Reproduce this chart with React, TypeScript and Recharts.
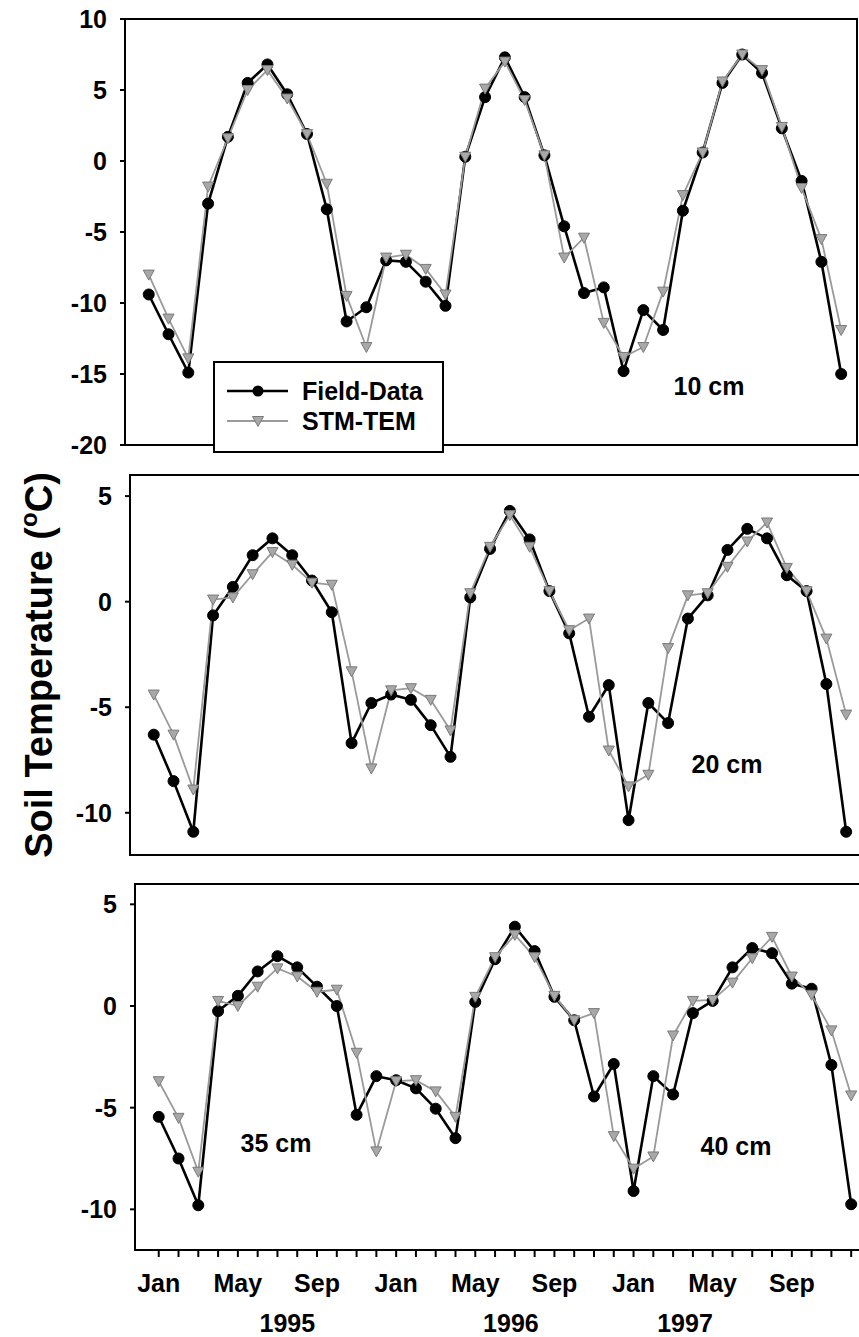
import React from 'react'
import { LineChart, Line, XAxis, YAxis, ReferenceArea } from 'recharts'

const FONT = '"Liberation Sans", Arial, Helvetica, sans-serif'

const monthNames = ['Jan', 'Feb', 'Mar', 'Apr', 'May', 'Jun', 'Jul', 'Aug', 'Sep', 'Oct', 'Nov', 'Dec']
const years = ['1995', '1996', '1997']
// where the year captions sit on the month axis (0 = Jan 1995)
const yearTickAt = [6.5, 17.8, 26.6]

// 10 cm
const field10 = [-9.4, -12.2, -14.9, -3.0, 1.7, 5.5, 6.8, 4.7, 1.9, -3.4, -11.3, -10.3,
  -7.0, -7.1, -8.5, -10.2, 0.3, 4.5, 7.3, 4.5, 0.4, -4.6, -9.3, -8.9,
  -14.8, -10.5, -11.9, -3.5, 0.6, 5.5, 7.5, 6.2, 2.3, -1.4, -7.1, -15.0]
const stm10 = [-8.0, -11.1, -13.9, -1.8, 1.6, 5.0, 6.4, 4.4, 1.9, -1.6, -9.5, -13.1,
  -6.8, -6.6, -7.6, -9.4, 0.3, 5.1, 7.0, 4.3, 0.4, -6.8, -5.4, -11.4,
  -13.8, -13.1, -9.2, -2.4, 0.6, 5.6, 7.5, 6.4, 2.4, -1.9, -5.5, -11.9]

// 20 cm
const field20 = [-6.3, -8.5, -10.9, -0.65, 0.7, 2.2, 3.0, 2.2, 1.0, -0.5, -6.7, -4.8,
  -4.4, -4.65, -5.85, -7.35, 0.2, 2.5, 4.3, 2.95, 0.5, -1.5, -5.45, -3.95,
  -10.35, -4.8, -5.75, -0.8, 0.3, 2.45, 3.45, 3.0, 1.25, 0.5, -3.9, -10.9]
const stm20 = [-4.4, -6.3, -8.9, 0.1, 0.2, 1.3, 2.35, 1.75, 0.9, 0.8, -3.3, -7.9,
  -4.2, -4.1, -4.65, -6.1, 0.4, 2.6, 4.1, 2.6, 0.5, -1.35, -0.8, -7.05,
  -8.75, -8.2, -2.2, 0.3, 0.4, 1.65, 2.85, 3.75, 1.6, 0.5, -1.75, -5.35]

// 35 cm (1995-96) / 40 cm (1997)
const field35 = [-5.45, -7.5, -9.8, -0.25, 0.5, 1.7, 2.45, 1.9, 0.95, 0.0, -5.35, -3.45,
  -3.65, -4.05, -5.05, -6.5, 0.2, 2.3, 3.9, 2.7, 0.45, -0.7, -4.45, -2.85,
  -9.1, -3.45, -4.35, -0.35, 0.25, 1.9, 2.85, 2.6, 1.1, 0.85, -2.9, -9.75]
const stm35 = [-3.7, -5.5, -8.15, 0.25, 0.0, 0.95, 1.85, 1.45, 0.7, 0.8, -2.3, -7.15,
  -3.7, -3.65, -4.2, -5.45, 0.45, 2.4, 3.5, 2.4, 0.5, -0.7, -0.35, -6.4,
  -8.0, -7.4, -1.45, 0.25, 0.3, 1.15, 2.35, 3.4, 1.45, 0.55, -1.2, -4.4]

const months = years.flatMap((y) => monthNames.map((m) => `${m} ${y}`))
const build = (field: number[], stm: number[]) =>
  months.map((m, i) => ({ i, month: m, field: field[i], stm: stm[i] }))

const X_DOMAIN: [number, number] = [-1.2, 35.8]
const PLOT_W = 732
const CHART_W = 880
const Y_AXIS_W = 60

const tickStyle = { fill: '#000', fontSize: 25, fontWeight: 700, fontFamily: FONT }

const Triangle = (props: any) => {
  const { cx, cy, index } = props
  if (cx == null || cy == null) return <g key={`t-${index}`} />
  return (
    <polygon
      key={`t-${index}`}
      points={`${cx - 5.5},${cy - 4.5} ${cx + 5.5},${cy - 4.5} ${cx},${cy + 5.5}`}
      fill="#a8a8a8"
      stroke="#7a7a7a"
      strokeWidth={1}
    />
  )
}

interface PanelProps {
  data: any[]
  yDomain: [number, number]
  yTicks: number[]
  left: number
  top: number
  height: number
  showX?: boolean
}

function Panel({ data, yDomain, yTicks, left, top, height, showX }: PanelProps) {
  const xAxisH = 40
  const yearAxisH = 45
  const chartH = showX ? 1337 : top + height + 30
  const bottom = showX ? chartH - top - height - xAxisH - yearAxisH : 30
  return (
    <div style={{ position: 'absolute', left: 0, top: 0 }}>
      <LineChart
        width={CHART_W}
        height={chartH}
        data={data}
        margin={{ top, left: left - Y_AXIS_W, right: CHART_W - left - PLOT_W, bottom }}
      >
        <XAxis
          type="number"
          dataKey="i"
          domain={X_DOMAIN}
          allowDataOverflow
          hide={!showX}
          ticks={months.map((_, i) => i)}
          interval={0}
          tickFormatter={(v: number) => (v % 4 === 0 ? monthNames[v % 12] : '')}
          axisLine={false}
          tickLine={{ stroke: '#000', strokeWidth: 2 }}
          tickSize={7}
          tickMargin={17}
          height={xAxisH}
          tick={tickStyle}
        />
        {showX && (
          <XAxis
            xAxisId="year"
            type="number"
            dataKey="i"
            domain={X_DOMAIN}
            allowDataOverflow
            ticks={yearTickAt}
            interval={0}
            tickFormatter={(v: number) => years[yearTickAt.indexOf(v)]}
            axisLine={false}
            tickLine={false}
            tickSize={0}
            tickMargin={24}
            height={yearAxisH}
            tick={tickStyle}
          />
        )}
        <YAxis
          type="number"
          domain={yDomain}
          allowDataOverflow
          ticks={yTicks}
          interval={0}
          axisLine={false}
          tickLine={{ stroke: '#000', strokeWidth: 2 }}
          tickSize={5}
          tickMargin={13}
          width={Y_AXIS_W}
          tick={tickStyle}
        />
        <ReferenceArea
          x1={X_DOMAIN[0]}
          x2={X_DOMAIN[1]}
          y1={yDomain[0]}
          y2={yDomain[1]}
          fill="none"
          fillOpacity={0}
          stroke="#000"
          strokeWidth={2}
          ifOverflow="visible"
        />
        <Line
          dataKey="field"
          stroke="#000"
          strokeWidth={2.6}
          strokeLinejoin="round"
          dot={{ r: 5.5, fill: '#000', stroke: '#000', strokeWidth: 1 }}
          isAnimationActive={false}
        />
        <Line
          dataKey="stm"
          stroke="#9a9a9a"
          strokeWidth={1.8}
          strokeLinejoin="round"
          dot={Triangle}
          isAnimationActive={false}
        />
      </LineChart>
    </div>
  )
}

export default function App() {
  return (
    <div
      style={{
        position: 'absolute',
        left: 0,
        top: 0,
        width: 859,
        height: 1337,
        overflow: 'hidden',
        background: '#fff',
        fontFamily: FONT,
      }}
    >
      <Panel data={build(field10, stm10)} yDomain={[-20, 10]} yTicks={[-20, -15, -10, -5, 0, 5, 10]} left={125} top={19} height={426} />
      <Panel data={build(field20, stm20)} yDomain={[-12, 6]} yTicks={[-10, -5, 0, 5]} left={130} top={475} height={380} />
      <Panel data={build(field35, stm35)} yDomain={[-12, 6]} yTicks={[-10, -5, 0, 5]} left={135} top={884} height={366} showX />

      <svg
        width={859}
        height={1337}
        style={{ position: 'absolute', left: 0, top: 0, pointerEvents: 'none' }}
        fontFamily={FONT}
        fontWeight={700}
      >
        <text transform="translate(52,665) rotate(-90)" textAnchor="middle" fontSize={38} fill="#000">
          Soil Temperature (<tspan fontSize={24} dy={-15}>o</tspan>
          <tspan dy={15}>C)</tspan>
        </text>

        <text x={709} y={395} textAnchor="middle" fontSize={25}>10 cm</text>
        <text x={727} y={773} textAnchor="middle" fontSize={25}>20 cm</text>
        <text x={276} y={1152} textAnchor="middle" fontSize={25}>35 cm</text>
        <text x={736} y={1155} textAnchor="middle" fontSize={25}>40 cm</text>

        {/* legend */}
        <rect x={214} y={362} width={229} height={90} fill="#fff" stroke="#000" strokeWidth={2} />
        <line x1={227} y1={391} x2={288} y2={391} stroke="#000" strokeWidth={2.6} />
        <circle cx={258} cy={391} r={5.5} fill="#000" />
        <text x={302} y={400} fontSize={25}>Field-Data</text>
        <line x1={227} y1={421} x2={288} y2={421} stroke="#9a9a9a" strokeWidth={1.8} />
        <polygon points="252.5,416.5 263.5,416.5 258,426.5" fill="#a8a8a8" stroke="#7a7a7a" strokeWidth={1} />
        <text x={302} y={430} fontSize={25}>STM-TEM</text>
      </svg>
    </div>
  )
}
